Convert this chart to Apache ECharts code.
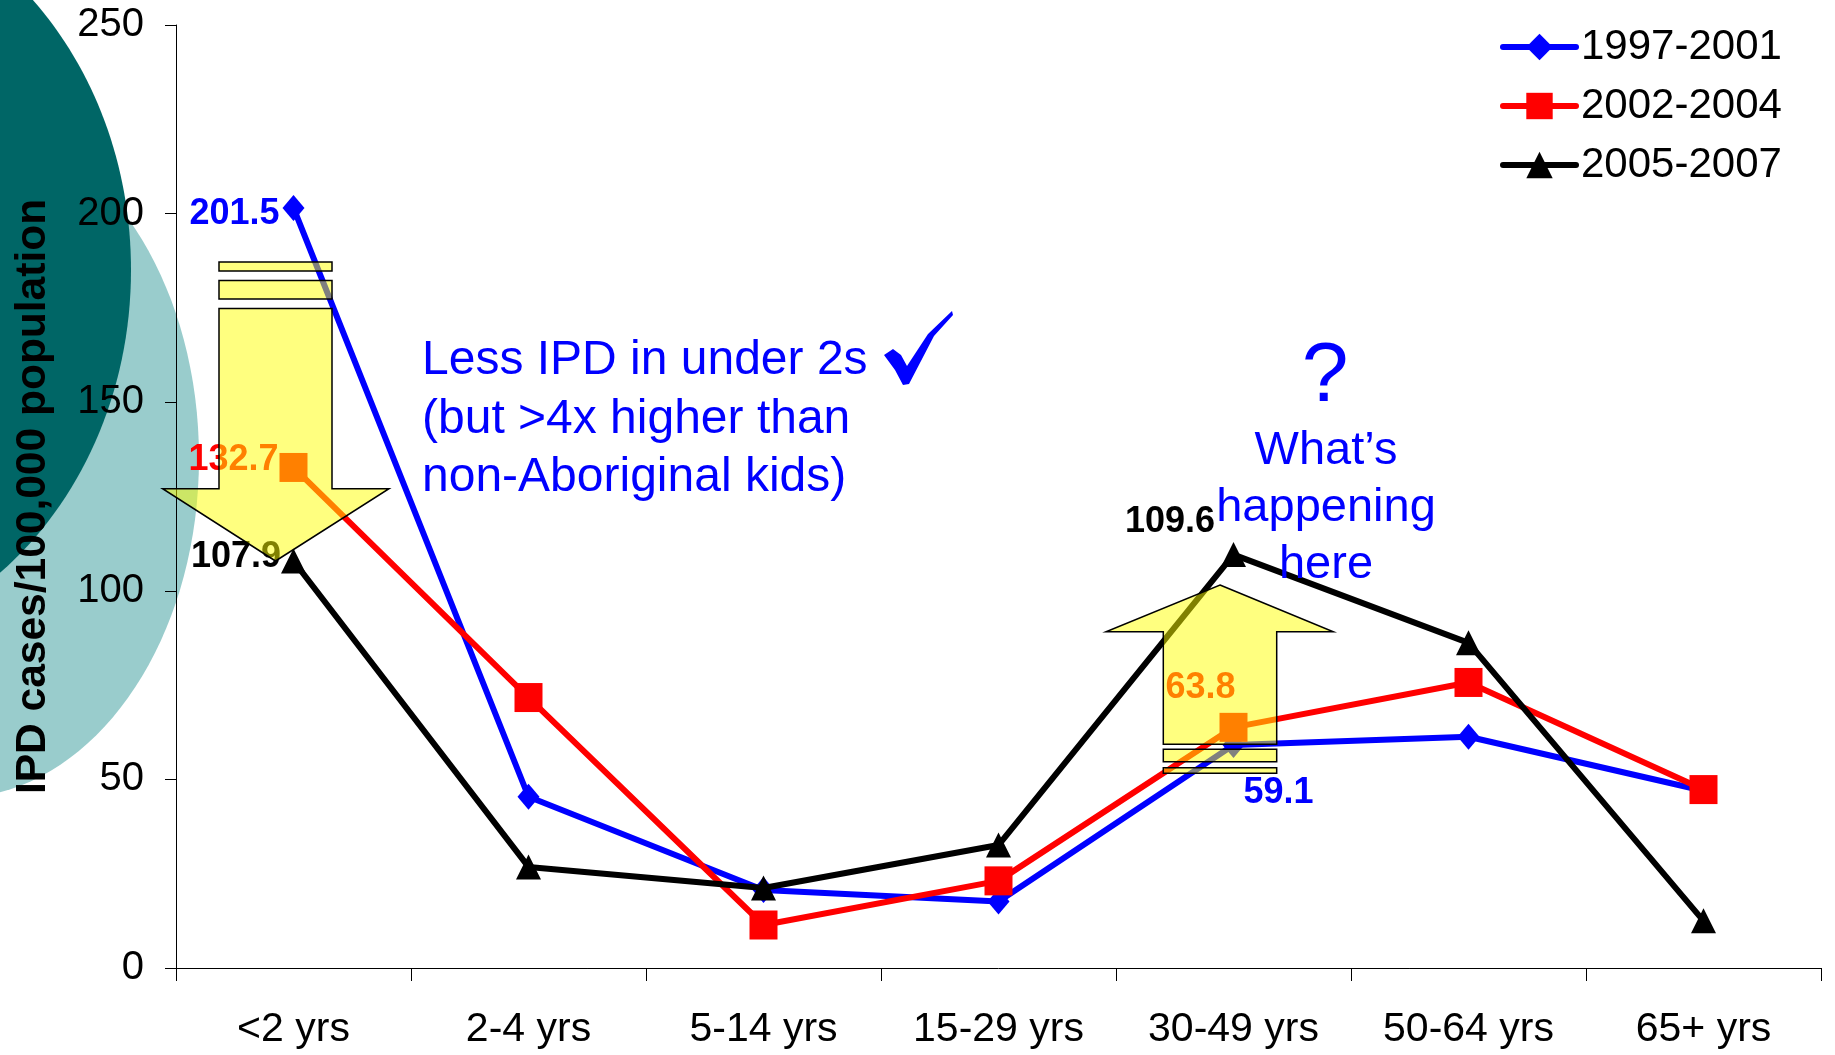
<!DOCTYPE html>
<html>
<head>
<meta charset="utf-8">
<title>IPD rates by age group</title>
<script src="https://cdn.jsdelivr.net/npm/echarts@6/dist/echarts.min.js"></script>
<style>
  html, body { margin: 0; padding: 0; background: #fff; }
  #chart { width: 1835px; height: 1055px; }
</style>
</head>
<body>
<div id="chart"></div>
<script>
const ageGroups = ["<2 yrs", "2-4 yrs", "5-14 yrs", "15-29 yrs", "30-49 yrs", "50-64 yrs", "65+ yrs"];
const rates1997 = [201.5, 45.4, 20.7, 17.6, 59.1, 61.3, 47.0];
const rates2002 = [132.7, 71.7, 11.4, 23.1, 63.8, 75.7, 47.3];
const rates2005 = [107.9, 26.8, 21.2, 32.6, 109.6, 86.2, 12.5];
const periods = ["1997-2001", "2002-2004", "2005-2007"];
const yTicks = [0, 50, 100, 150, 200, 250];

const FONT = "'Liberation Sans', Arial, sans-serif";
const BLUE = "#0000ff";
const RED = "#ff0000";

function labelStyle(color, extra) {
  return Object.assign({
    show: true,
    color: color,
    fontFamily: FONT,
    fontWeight: "bold",
    fontSize: 36
  }, extra);
}

// which points carry a value label, and where it sits
const labels1997 = {
  0: labelStyle(BLUE, { position: "left", distance: 3, offset: [0, 6] }),
  4: labelStyle(BLUE, { position: "bottom", align: "left", distance: 17, offset: [10, 0] })
};
const labels2002 = {
  0: labelStyle(RED, { position: "left", distance: 1, offset: [0, -7] }),
  4: labelStyle(RED, { position: "top", align: "right", distance: 7, offset: [2, 0] })
};
const labels2005 = {
  0: labelStyle("#000", { position: "left", distance: 0, offset: [0, -4] }),
  4: labelStyle("#000", { position: "left", distance: 6, offset: [0, -33] })
};

function toData(values, labels) {
  return values.map(function (v, i) {
    return labels[i] ? { value: v, label: labels[i] } : v;
  });
}

const arrowFill = "rgba(255,255,0,0.5)";
const arrowStroke = { stroke: "#000", lineWidth: 1.5 };

const chart = echarts.init(document.getElementById("chart"));
chart.setOption({
  animation: false,
  backgroundColor: "#fff",
  textStyle: { fontFamily: FONT },
  grid: { left: 176, right: 14, top: 25, bottom: 87 },
  legend: {
    orient: "vertical",
    left: 1500,
    top: 26,
    padding: 0,
    itemWidth: 73,
    itemHeight: 33,
    itemGap: 17,
    textStyle: { fontSize: 42, color: "#000", fontFamily: FONT },
    lineStyle: { width: 6, cap: "round" },
    data: periods
  },
  xAxis: {
    type: "category",
    data: ageGroups,
    boundaryGap: true,
    axisLine: { lineStyle: { color: "#000", width: 1 } },
    axisTick: { show: true, length: 13, lineStyle: { color: "#000" } },
    axisLabel: { fontSize: 41, color: "#000", margin: 41, fontFamily: FONT }
  },
  yAxis: {
    type: "value",
    min: yTicks[0],
    max: yTicks[yTicks.length - 1],
    interval: yTicks[1] - yTicks[0],
    name: "IPD cases/100,000 population",
    nameLocation: "middle",
    nameGap: 121,
    nameTextStyle: { fontSize: 42.5, fontWeight: "bold", color: "#000", fontFamily: FONT },
    axisLine: { show: true, lineStyle: { color: "#000", width: 1 } },
    axisTick: { show: true, length: 11, lineStyle: { color: "#000" } },
    axisLabel: { fontSize: 40, color: "#000", margin: 32, fontFamily: FONT },
    splitLine: { show: false }
  },
  series: [
    {
      name: periods[0],
      type: "line",
      data: toData(rates1997, labels1997),
      symbol: "diamond",
      symbolSize: [22, 26],
      lineStyle: { color: BLUE, width: 6 },
      itemStyle: { color: BLUE },
      z: 2
    },
    {
      name: periods[1],
      type: "line",
      data: toData(rates2002, labels2002),
      symbol: "rect",
      symbolSize: [28, 29],
      lineStyle: { color: RED, width: 6 },
      itemStyle: { color: RED },
      z: 3
    },
    {
      name: periods[2],
      type: "line",
      data: toData(rates2005, labels2005),
      symbol: "triangle",
      symbolSize: [25, 25],
      lineStyle: { color: "#000", width: 6 },
      itemStyle: { color: "#000" },
      z: 4
    }
  ],
  graphic: [
    // background shapes
    { type: "ellipse", z: -10, silent: true,
      shape: { cx: -45, cy: 458, rx: 244, ry: 340 }, style: { fill: "#99cccc" } },
    { type: "ellipse", z: -9, silent: true,
      shape: { cx: -200, cy: 270, rx: 331, ry: 380 }, style: { fill: "#006666" } },

    // downward arrow at <2 yrs
    { type: "rect", z: 100, shape: { x: 219, y: 262, width: 113, height: 9 },
      style: Object.assign({ fill: arrowFill }, arrowStroke) },
    { type: "rect", z: 100, shape: { x: 219, y: 280.5, width: 113, height: 18.5 },
      style: Object.assign({ fill: arrowFill }, arrowStroke) },
    { type: "polygon", z: 100,
      shape: { points: [[219, 308.5], [332, 308.5], [332, 488.7], [389, 488.7],
                        [275.5, 561], [162.6, 488.7], [219, 488.7]] },
      style: Object.assign({ fill: arrowFill }, arrowStroke) },

    // upward arrow at 30-49 yrs
    { type: "polygon", z: 100,
      shape: { points: [[1220, 585], [1333.3, 631.7], [1276.7, 631.7], [1276.7, 744.3],
                        [1163.3, 744.3], [1163.3, 631.7], [1106, 631.7]] },
      style: Object.assign({ fill: arrowFill }, arrowStroke) },
    { type: "rect", z: 100, shape: { x: 1163.3, y: 749.3, width: 113.4, height: 12.4 },
      style: Object.assign({ fill: arrowFill }, arrowStroke) },
    { type: "rect", z: 100, shape: { x: 1163.3, y: 767.7, width: 113.4, height: 5.6 },
      style: Object.assign({ fill: arrowFill }, arrowStroke) },

    // annotations
    { type: "text", z: 110, x: 422, y: 332,
      style: {
        text: "Less IPD in under 2s\n(but >4x higher than\nnon-Aboriginal kids)",
        fill: BLUE, fontSize: 48, fontFamily: FONT, lineHeight: 58.5,
        textAlign: "left", textVerticalAlign: "top"
      } },
    { type: "polygon", z: 110,
      shape: { points: [[884, 355], [893, 349], [901, 355], [907, 366], [928, 334],
                        [952, 311], [953, 315], [934, 336], [909, 384], [903, 385], [895, 370]] },
      style: { fill: BLUE } },
    { type: "text", z: 110, x: 1325, y: 378,
      style: { text: "?", fill: BLUE, fontSize: 84, fontFamily: FONT,
               textAlign: "center", textVerticalAlign: "middle" } },
    { type: "text", z: 110, x: 1326, y: 422.5,
      style: {
        text: "What\u2019s\nhappening\nhere",
        fill: BLUE, fontSize: 47, fontFamily: FONT, lineHeight: 57,
        textAlign: "center", textVerticalAlign: "top"
      } }
  ]
});
</script>
</body>
</html>
